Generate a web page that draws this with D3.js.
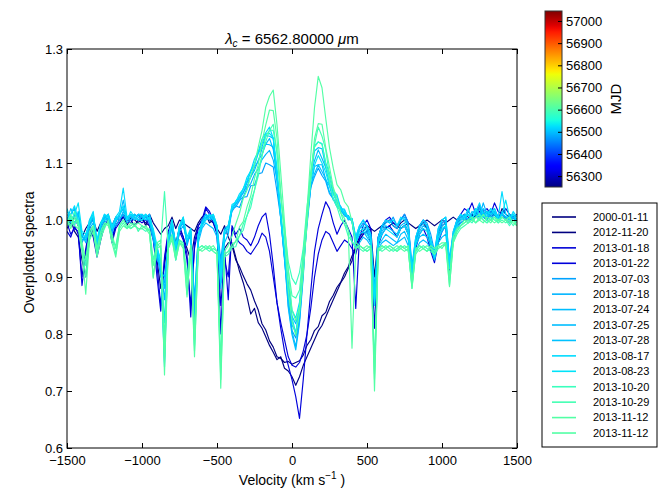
<!DOCTYPE html>
<html>
<head>
<meta charset="utf-8">
<script src="https://cdnjs.cloudflare.com/ajax/libs/d3/7.8.5/d3.min.js"></script>
<style>
  body { margin: 0; background: #fff; }
  svg text { font-family: "Liberation Sans", Arial, Helvetica, sans-serif; fill: #000; }
  .tick line { stroke: #000; }
</style>
</head>
<body>
<svg id="chart" width="664" height="501"></svg>
<script>
// sampling grid (km/s)
const velocity = d3.range(-1500, 1501, 25);

// observation dates and MJD
const dates = ["2000-01-11", "2012-11-20", "2013-01-18", "2013-01-22", "2013-07-03", "2013-07-18",
  "2013-07-24", "2013-07-25", "2013-07-28", "2013-08-17", "2013-08-23", "2013-10-20",
  "2013-10-29", "2013-11-12", "2013-11-12"];
const mjd = [51554, 56251, 56310, 56314, 56476, 56491, 56497, 56498, 56501, 56521, 56527,
  56585, 56594, 56608, 56608];

// normalised flux, one array per spectrum
const f20000111 = [
  0.985,0.995,1.005,0.99,0.97,0.985,0.995,1.0,0.98,0.995,1.005,1.0,0.99,1.005,1.0,1.01,0.99,1.005,1.0,0.995,
  1.005,0.99,1.01,0.995,0.985,0.975,0.985,0.99,1.005,0.985,1.0,0.995,0.99,0.985,0.98,0.995,1.005,1.01,0.995,1.0,0.985,0.975,0.99,0.97,
  0.955,0.93,0.918,0.902,0.888,0.877,0.858,0.842,0.818,0.807,0.788,0.777,0.76,0.757,0.75,0.752,0.747,0.75,0.753,0.763,0.78,0.79,0.806,0.813,0.832,0.838,0.857,0.868,0.882,0.891,0.907,0.918,0.937,
  0.95,0.965,0.975,0.98,0.985,0.98,0.985,0.99,0.985,0.99,0.995,0.99,0.985,0.99,0.995,0.99,0.985,0.99,0.995,1.0,0.995,0.99,0.995,1.0,0.995,1.0,1.005,1.0,1.005,1.01,1.005,1.0,1.01,1.005,1.01,1.015,1.005,1.01,1.0,1.01,1.005,1.0,1.01,1.0];
const f20121120 = [
  0.99,1.0,0.98,0.97,0.93,0.9,0.97,0.98,0.94,0.97,0.99,1.0,0.965,0.99,1.0,1.005,0.995,1.0,0.99,1.0,
  1.0,0.995,0.99,0.97,0.93,0.88,0.92,0.97,0.99,0.96,0.985,0.97,0.95,0.93,0.97,0.99,1.0,1.01,1.0,0.995,0.98,0.89,0.95,0.96,
  0.96,0.935,0.91,0.89,0.865,0.835,0.845,0.82,0.81,0.795,0.78,0.768,0.755,0.76,0.74,0.735,0.725,0.71,0.725,0.745,0.76,0.775,0.79,0.805,0.815,0.83,0.845,0.86,0.875,0.89,0.9,0.915,0.928,
  0.955,0.97,0.98,0.99,0.985,0.9,0.97,0.99,0.995,1.0,0.99,0.985,0.995,1.0,0.99,0.9,0.96,0.99,0.995,0.985,0.95,0.93,0.97,0.99,0.995,0.91,0.97,0.995,1.0,1.005,1.0,1.01,1.005,1.02,1.01,1.005,1.015,1.01,1.0,1.02,1.01,1.005,1.01,1.0];
const f20130118 = [
  0.98,0.97,0.99,0.975,0.9,0.95,0.985,0.97,0.935,0.965,0.99,1.0,0.96,0.985,0.995,1.005,1.0,0.995,1.005,1.0,
  0.995,1.0,0.99,0.965,0.92,0.85,0.93,0.975,0.99,0.94,0.98,0.965,0.93,0.85,0.95,0.985,0.99,1.02,1.01,0.995,0.975,0.85,0.93,0.9,
  0.985,0.97,0.96,0.955,0.945,0.94,0.95,0.96,0.977,0.97,0.945,0.9,0.855,0.82,0.79,0.76,0.745,0.742,0.75,0.77,0.8,0.845,0.9,0.94,0.965,0.98,0.975,0.96,0.945,0.955,0.965,0.96,0.95,
  0.94,0.965,0.975,0.98,0.96,0.81,0.955,0.975,0.985,0.99,0.98,0.97,0.985,0.99,0.975,0.895,0.95,0.975,0.985,0.97,0.945,0.925,0.96,0.98,0.99,0.9,0.965,0.99,0.995,1.0,1.0,1.005,1.01,1.015,1.005,1.0,1.01,1.015,1.005,1.01,1.0,0.995,1.005,0.995];
const f20130122 = [
  0.995,0.975,0.985,0.98,0.885,0.94,0.99,0.98,0.94,0.97,1.0,1.01,0.97,0.99,1.0,1.01,1.0,1.005,1.0,1.01,
  1.0,1.005,0.995,0.97,0.9,0.84,0.935,0.98,1.0,0.95,0.99,0.97,0.94,0.83,0.96,0.99,1.0,1.023,1.015,1.0,0.985,0.8,0.95,0.86,
  0.99,0.975,0.985,0.97,0.965,0.955,0.97,0.99,1.005,1.012,0.975,0.92,0.855,0.81,0.77,0.745,0.72,0.69,0.652,0.72,0.8,0.875,0.945,0.985,1.01,1.032,1.02,0.995,0.975,0.99,1.0,0.985,0.97,
  0.845,0.97,0.99,1.0,0.985,0.85,0.97,0.99,1.0,1.005,0.995,0.99,1.0,1.01,0.995,0.9,0.965,0.99,1.0,0.99,0.96,0.93,0.975,0.995,1.0,0.905,0.975,1.0,1.01,1.02,1.015,1.03,1.01,1.025,1.015,1.02,1.01,1.03,1.015,1.01,1.02,1.01,1.005,1.01];
const f20130703 = [
  1.005,0.995,1.01,1.0,0.96,0.975,0.99,1.005,0.95,0.985,1.0,1.01,0.98,0.995,1.01,1.02,1.0,1.005,1.0,1.01,
  1.005,1.0,1.01,0.975,0.94,0.9,0.89,0.96,0.995,0.93,0.985,1.0,0.955,0.98,0.86,0.97,0.99,1.005,1.0,1.01,0.99,0.93,0.985,0.99,
  1.015,1.025,1.022,1.04,1.041,1.06,1.061,1.081,1.083,1.1,1.097,1.093,1.05,1.003,0.93,0.865,0.806,0.793,0.826,0.918,0.99,1.057,1.076,1.091,1.078,1.068,1.046,1.037,1.023,1.018,1.007,1.005,0.998,
  0.96,0.985,0.995,0.99,0.975,0.88,0.97,0.99,1.0,0.995,1.005,0.99,1.0,1.01,0.995,0.92,0.97,0.99,1.0,0.995,0.975,0.945,0.985,1.0,1.005,0.93,0.98,1.0,1.01,1.0,1.015,1.005,1.01,1.025,1.01,1.0,1.015,1.02,1.005,1.01,1.0,1.01,1.005,0.995];
const f20130718 = [
  0.99,1.01,1.02,0.995,0.97,0.965,1.0,1.01,0.955,0.99,1.005,1.0,0.975,1.0,1.005,1.035,1.0,1.01,1.005,1.0,
  1.01,1.005,0.995,0.965,0.93,0.92,0.86,0.95,0.99,0.94,0.99,1.005,0.96,0.975,0.82,0.965,1.0,1.01,1.005,1.0,0.985,0.9,0.975,0.98,
  1.02,1.023,1.034,1.041,1.056,1.064,1.08,1.09,1.106,1.115,1.122,1.105,1.07,1.002,0.935,0.85,0.804,0.778,0.824,0.906,1.004,1.056,1.094,1.097,1.097,1.07,1.06,1.035,1.032,1.014,1.014,1.0,1.002,
  0.97,0.99,1.0,0.985,0.97,0.86,0.965,0.985,0.995,1.0,0.99,0.985,1.0,1.005,0.99,0.91,0.965,0.985,0.995,0.99,0.965,0.94,0.98,0.995,1.0,0.92,0.975,0.995,1.005,1.01,1.0,1.01,1.02,1.005,1.03,1.01,1.02,1.01,1.0,1.015,1.01,1.0,1.005,1.0];
const f20130724 = [
  1.01,1.0,0.99,1.015,0.975,0.96,0.985,0.995,0.945,0.98,0.995,1.005,0.985,0.99,1.0,1.01,0.995,1.0,1.01,1.005,
  1.0,1.01,1.0,0.97,0.95,0.93,0.742,0.96,1.0,0.95,0.98,0.99,0.965,0.97,0.8,0.96,0.985,0.995,0.99,0.985,0.97,0.88,0.96,0.975,
  1.018,1.029,1.035,1.049,1.059,1.076,1.087,1.105,1.115,1.133,1.132,1.128,1.069,1.011,0.936,0.874,0.816,0.803,0.836,0.929,1.006,1.076,1.104,1.123,1.108,1.092,1.064,1.05,1.032,1.024,1.01,1.008,0.998,
  0.95,0.96,0.97,0.965,0.955,0.85,0.95,0.96,0.965,0.96,0.955,0.96,0.965,0.97,0.955,0.9,0.945,0.96,0.965,0.96,0.95,0.93,0.96,0.97,0.975,0.915,0.97,0.985,0.995,1.0,0.995,1.005,1.01,1.0,1.015,1.005,1.0,1.01,1.0,1.005,1.0,0.995,1.005,1.0];
const f20130725 = [
  1.0,1.02,1.005,0.99,0.965,0.97,0.995,1.005,0.96,0.99,1.01,1.0,0.985,1.005,1.0,1.015,1.005,1.0,1.01,1.0,
  1.0,1.005,1.01,0.98,0.945,0.91,0.9,0.955,0.99,0.945,0.985,0.995,0.96,0.98,0.85,0.975,0.995,1.01,1.0,1.005,0.98,0.91,0.98,0.99,
  1.024,1.027,1.04,1.047,1.066,1.075,1.093,1.103,1.125,1.133,1.143,1.124,1.081,1.002,0.934,0.846,0.799,0.772,0.819,0.9,1.004,1.074,1.121,1.127,1.125,1.093,1.077,1.047,1.041,1.019,1.017,1.003,1.002,
  0.965,0.985,0.99,0.98,0.965,0.87,0.96,0.98,0.99,0.985,0.98,0.975,0.99,0.995,0.98,0.905,0.96,0.98,0.99,0.985,0.96,0.935,0.975,0.99,0.995,0.925,0.975,0.995,1.005,1.0,1.01,1.0,1.005,1.02,1.005,1.0,1.01,1.015,1.0,1.01,1.005,1.0,1.005,0.995];
const f20130728 = [
  1.015,1.005,0.995,1.01,0.97,0.965,0.99,1.0,0.955,0.99,1.005,1.01,0.99,1.0,1.01,1.02,1.0,1.005,1.01,1.005,
  1.005,1.01,1.0,0.975,0.94,0.915,0.88,0.96,0.995,0.94,0.985,1.0,0.96,0.985,0.84,0.97,0.99,1.0,1.01,1.005,0.985,0.92,0.975,0.985,
  1.02,1.033,1.039,1.055,1.066,1.085,1.096,1.117,1.128,1.148,1.147,1.143,1.077,1.012,0.941,0.884,0.831,0.818,0.846,0.934,0.996,1.06,1.081,1.097,1.085,1.072,1.049,1.038,1.025,1.017,1.009,1.005,0.998,
  0.96,0.975,0.98,0.97,0.96,0.86,0.955,0.965,0.975,0.97,0.965,0.96,0.975,0.98,0.965,0.9,0.955,0.97,0.975,0.97,0.955,0.93,0.965,0.98,0.99,0.92,0.975,0.99,1.0,1.005,1.0,1.015,1.01,1.005,1.02,1.01,1.005,1.015,1.0,1.01,1.005,1.0,1.01,1.0];
const f20130817 = [
  1.0,1.01,1.025,1.0,0.975,0.97,1.0,1.015,0.96,0.995,1.01,1.005,0.99,1.005,1.015,1.056,1.005,1.01,1.0,1.01,
  1.01,1.0,1.005,0.98,0.95,0.92,0.75,0.965,1.0,0.95,0.99,1.0,0.965,0.98,0.78,0.975,0.995,1.005,1.01,1.0,0.99,0.89,0.98,0.985,
  1.027,1.031,1.046,1.054,1.075,1.086,1.107,1.12,1.142,1.153,1.163,1.143,1.092,1.004,0.944,0.866,0.829,0.801,0.849,0.921,1.009,1.08,1.13,1.137,1.134,1.1,1.082,1.051,1.044,1.02,1.019,1.002,1.003,
  0.97,0.99,1.0,0.99,0.975,0.87,0.97,0.99,1.0,0.995,1.0,0.99,1.005,1.0,0.99,0.915,0.97,0.99,1.0,0.99,0.965,0.94,0.985,1.0,1.005,0.925,0.98,1.0,1.01,1.005,1.02,1.0,1.015,1.03,1.01,1.005,1.02,1.01,1.005,1.05,1.01,1.0,1.015,1.005];
const f20130823 = [
  1.02,1.0,1.01,1.03,0.98,0.975,0.995,1.01,0.965,0.995,1.0,1.01,0.985,1.0,1.01,1.025,1.0,1.015,1.005,1.0,
  1.0,1.01,1.0,0.985,0.955,0.925,0.82,0.97,1.0,0.955,0.99,1.005,0.97,0.985,0.79,0.975,0.99,1.0,1.005,1.01,0.99,0.9,0.98,0.99,
  1.02,1.033,1.041,1.055,1.069,1.087,1.099,1.119,1.134,1.151,1.152,1.144,1.082,1.011,0.946,0.893,0.842,0.828,0.856,0.939,1.001,1.069,1.096,1.113,1.1,1.084,1.059,1.045,1.031,1.02,1.012,1.005,0.999,
  0.96,0.98,0.985,0.975,0.965,0.85,0.96,0.975,0.985,0.98,0.975,0.97,0.985,0.99,0.975,0.905,0.96,0.975,0.985,0.98,0.96,0.935,0.97,0.985,0.99,0.915,0.97,0.99,1.0,1.005,1.01,1.0,1.02,1.01,1.005,1.015,1.01,1.02,1.0,1.01,1.035,1.005,1.01,1.0];
const f20131020 = [
  1.0,0.99,1.015,0.995,0.95,0.92,0.975,0.985,0.94,0.975,0.99,0.995,0.965,0.955,0.99,1.0,0.99,0.985,0.99,0.985,
  0.985,0.98,0.985,0.93,0.96,0.95,0.79,0.955,0.975,0.94,0.965,0.96,0.9,0.955,0.8,0.95,0.955,0.95,0.945,0.95,0.945,0.75,0.94,0.945,
  0.952,0.953,0.973,0.982,1.008,1.022,1.053,1.077,1.113,1.137,1.158,1.157,1.118,1.041,0.988,0.927,0.898,0.887,0.908,0.951,1.023,1.077,1.128,1.137,1.133,1.097,1.068,1.037,1.023,1.002,0.993,0.972,0.962,
  0.95,0.955,0.95,0.945,0.95,0.75,0.945,0.95,0.955,0.95,0.945,0.95,0.955,0.95,0.945,0.885,0.94,0.95,0.955,0.95,0.945,0.94,0.95,0.955,0.96,0.895,0.965,0.98,0.99,0.995,1.0,0.995,1.005,1.01,1.0,0.995,1.005,1.0,0.995,1.005,1.0,0.99,1.0,0.995];
const f20131029 = [
  0.99,1.005,0.995,1.0,0.955,0.9,0.97,0.99,0.945,0.97,0.985,1.0,0.97,0.94,0.985,0.995,0.985,0.99,0.995,0.98,
  0.99,0.985,0.98,0.9,0.955,0.96,1.05,0.95,0.97,0.93,0.96,0.955,0.87,0.95,0.77,0.945,0.95,0.955,0.95,0.945,0.94,0.72,0.935,0.94,
  0.952,0.963,0.972,0.993,1.007,1.033,1.052,1.088,1.112,1.148,1.157,1.168,1.117,1.043,0.972,0.913,0.867,0.863,0.877,0.943,1.007,1.083,1.132,1.163,1.147,1.123,1.077,1.053,1.027,1.013,0.992,0.983,0.962,
  0.955,0.95,0.945,0.95,0.955,0.72,0.95,0.945,0.95,0.955,0.95,0.945,0.95,0.955,0.95,0.88,0.945,0.955,0.95,0.945,0.95,0.945,0.955,0.95,0.96,0.885,0.96,0.975,0.985,0.99,0.995,1.0,0.995,1.005,1.0,0.995,1.0,1.005,0.995,1.0,0.995,1.0,0.99,1.0];
const f20131112a = [
  0.995,1.01,0.99,0.985,0.945,0.87,0.965,0.98,0.935,0.965,0.99,0.995,0.96,0.935,0.98,0.99,0.985,0.995,0.99,0.985,
  0.985,0.99,0.98,0.898,0.95,0.955,0.728,0.95,0.965,0.93,0.96,0.95,0.865,0.95,0.76,0.95,0.945,0.95,0.955,0.945,0.94,0.705,0.94,0.945,
  0.958,0.962,0.988,0.997,1.023,1.042,1.073,1.097,1.138,1.167,1.193,1.192,1.143,1.047,0.973,0.877,0.823,0.797,0.838,0.907,0.993,1.072,1.143,1.169,1.168,1.127,1.093,1.057,1.038,1.012,1.003,0.982,0.775,
  0.95,0.955,0.95,0.945,0.95,0.7,0.945,0.955,0.95,0.945,0.95,0.955,0.95,0.945,0.95,0.88,0.95,0.945,0.95,0.955,0.95,0.94,0.95,0.955,0.955,0.883,0.96,0.98,0.99,0.995,1.0,1.005,0.995,1.0,1.01,1.0,0.995,1.005,1.0,0.995,1.0,1.005,0.995,0.99];
const f20131112b = [
  1.0,0.985,1.005,0.99,0.96,0.93,0.98,0.99,0.95,0.98,0.995,0.99,0.975,0.95,0.99,1.0,0.99,0.985,0.99,0.995,
  0.99,0.985,0.975,0.92,0.96,0.965,0.76,0.955,0.97,0.935,0.965,0.955,0.89,0.955,0.79,0.95,0.955,0.95,0.95,0.955,0.945,0.74,0.945,0.955,
  0.972,0.993,1.012,1.038,1.052,1.078,1.097,1.128,1.157,1.198,1.217,1.228,1.167,1.083,0.997,0.913,0.842,0.823,0.847,0.933,1.017,1.113,1.197,1.252,1.232,1.178,1.127,1.091,1.062,1.053,1.032,1.023,0.997,
  0.96,0.955,0.95,0.955,0.95,0.73,0.95,0.955,0.95,0.955,0.95,0.945,0.955,0.95,0.955,0.89,0.95,0.955,0.95,0.945,0.955,0.95,0.955,0.96,0.96,0.9,0.97,0.985,0.99,1.0,0.995,1.0,1.005,1.0,0.995,1.005,1.0,0.995,1.0,1.005,1.0,0.995,1.0,0.99];

const fluxes = [f20000111, f20121120, f20130118, f20130122, f20130703, f20130718, f20130724,
  f20130725, f20130728, f20130817, f20130823, f20131020, f20131029, f20131112a, f20131112b];

const xTicks = [-1500, -1000, -500, 0, 500, 1000, 1500];
const yTicks = [0.6, 0.7, 0.8, 0.9, 1.0, 1.1, 1.2, 1.3];
const cbTicks = [56300, 56400, 56500, 56600, 56700, 56800, 56900, 57000];
const cbRange = [56251, 57045];

fluxes.forEach((f, i) => {
  if (f.length !== velocity.length) throw new Error(`${dates[i]} has ${f.length} points`);
});

const spectra = dates.map((d, i) => ({
  date: d,
  mjd: mjd[i],
  points: velocity.map((v, j) => ({ v, f: fluxes[i][j] }))
}));

// jet colormap (matplotlib segment data)
const jetR = d3.scaleLinear().domain([0, 0.35, 0.66, 0.89, 1]).range([0, 0, 1, 1, 0.5]).clamp(true);
const jetG = d3.scaleLinear().domain([0, 0.125, 0.375, 0.64, 0.91, 1]).range([0, 0, 1, 1, 0, 0]).clamp(true);
const jetB = d3.scaleLinear().domain([0, 0.11, 0.34, 0.65, 1]).range([0.5, 1, 1, 0, 0]).clamp(true);
const jet = t => d3.rgb(255 * jetR(t), 255 * jetG(t), 255 * jetB(t)).formatHex();
const norm = d3.scaleLinear().domain(cbRange).clamp(true);
const colorOf = m => jet(norm(m));

// dimensions
const PLOT = { left: 67, right: 517, top: 49, bottom: 448 };
const CB = { left: 545, right: 562, top: 11, bottom: 187 };
const LEG = { left: 542, top: 203, width: 115, height: 244, row: 15.43 };

const $svg = d3.select("#chart");

const scaleX = d3.scaleLinear().domain([-1500, 1500]).range([PLOT.left, PLOT.right]);
const scaleY = d3.scaleLinear().domain([0.6, 1.3]).range([PLOT.bottom, PLOT.top]);

$svg.append("defs").append("clipPath").attr("id", "plot-clip")
  .append("rect")
  .attr("x", PLOT.left).attr("y", PLOT.top)
  .attr("width", PLOT.right - PLOT.left).attr("height", PLOT.bottom - PLOT.top);

// spectra
const line = d3.line().x(d => scaleX(d.v)).y(d => scaleY(d.f));
$svg.append("g").attr("clip-path", "url(#plot-clip)")
  .selectAll("path")
  .data(spectra)
  .join("path")
  .attr("d", d => line(d.points))
  .attr("fill", "none")
  .attr("stroke", d => colorOf(d.mjd))
  .attr("stroke-width", 1.15)
  .attr("stroke-linejoin", "round");

// axes (ticks inward on all four sides)
const fmtX = d3.format("d");
const fmtY = d3.format(".1f");
function styleAxis(g) {
  g.select(".domain").remove();
  g.selectAll("text").style("font-size", "13px");
}
$svg.append("g").attr("transform", `translate(0,${PLOT.bottom})`)
  .call(d3.axisBottom(scaleX).tickValues(xTicks).tickFormat(fmtX).tickSizeInner(-5).tickSizeOuter(0).tickPadding(8))
  .call(styleAxis);
$svg.append("g").attr("transform", `translate(0,${PLOT.top})`)
  .call(d3.axisTop(scaleX).tickValues(xTicks).tickFormat("").tickSizeInner(-5).tickSizeOuter(0))
  .call(styleAxis);
$svg.append("g").attr("transform", `translate(${PLOT.left},0)`)
  .call(d3.axisLeft(scaleY).tickValues(yTicks).tickFormat(fmtY).tickSizeInner(-5).tickSizeOuter(0).tickPadding(4))
  .call(styleAxis);
$svg.append("g").attr("transform", `translate(${PLOT.right},0)`)
  .call(d3.axisRight(scaleY).tickValues(yTicks).tickFormat("").tickSizeInner(-5).tickSizeOuter(0))
  .call(styleAxis);

$svg.append("rect")
  .attr("x", PLOT.left).attr("y", PLOT.top)
  .attr("width", PLOT.right - PLOT.left).attr("height", PLOT.bottom - PLOT.top)
  .attr("fill", "none").attr("stroke", "#000").attr("stroke-width", 1);

// title
const title = $svg.append("text")
  .attr("x", (PLOT.left + PLOT.right) / 2).attr("y", 44)
  .attr("text-anchor", "middle").style("font-size", "15px");
title.append("tspan").style("font-style", "italic").text("λ");
title.append("tspan").style("font-style", "italic").style("font-size", "10px").attr("dy", 3).text("c");
title.append("tspan").attr("dy", -3).text(" = 6562.80000 ");
title.append("tspan").style("font-style", "italic").text("μ");
title.append("tspan").text("m");

// axis labels
const xLab = $svg.append("text")
  .attr("x", (PLOT.left + PLOT.right) / 2).attr("y", 485)
  .attr("text-anchor", "middle").style("font-size", "14px");
xLab.append("tspan").text("Velocity (km s");
xLab.append("tspan").attr("dy", -6).style("font-size", "10px").text("−1");
xLab.append("tspan").attr("dy", 6).text(" )");

$svg.append("text")
  .attr("transform", `translate(34,${(PLOT.top + PLOT.bottom) / 2 + 4}) rotate(-90)`)
  .attr("text-anchor", "middle").style("font-size", "14px")
  .text("Overplotted spectra");

// colorbar
const scaleCb = d3.scaleLinear().domain(cbRange).range([CB.bottom, CB.top]);
const grad = $svg.select("defs").append("linearGradient")
  .attr("id", "jet-grad").attr("x1", 0).attr("y1", 1).attr("x2", 0).attr("y2", 0);
grad.selectAll("stop")
  .data(d3.range(0, 1.0001, 0.02))
  .join("stop")
  .attr("offset", d => d)
  .attr("stop-color", d => jet(d));
$svg.append("rect")
  .attr("x", CB.left).attr("y", CB.top)
  .attr("width", CB.right - CB.left).attr("height", CB.bottom - CB.top)
  .attr("fill", "url(#jet-grad)").attr("stroke", "#333").attr("stroke-width", 1);
$svg.append("g").attr("transform", `translate(${CB.right},0)`)
  .call(d3.axisRight(scaleCb).tickValues(cbTicks).tickFormat(fmtX).tickSizeInner(-4).tickSizeOuter(0).tickPadding(4))
  .call(styleAxis);
$svg.append("text")
  .attr("transform", `translate(621,${(CB.top + CB.bottom) / 2}) rotate(-90)`)
  .attr("text-anchor", "middle").style("font-size", "15px")
  .text("MJD");

// legend
const $legend = $svg.append("g").attr("transform", `translate(${LEG.left},${LEG.top})`);
$legend.append("rect")
  .attr("width", LEG.width).attr("height", LEG.height)
  .attr("fill", "#fff").attr("stroke", "#000").attr("stroke-width", 1);
const $item = $legend.selectAll(".item")
  .data(spectra)
  .join("g")
  .attr("class", "item")
  .attr("transform", (d, i) => `translate(0,${14 + i * LEG.row})`);
$item.append("line")
  .attr("x1", 10).attr("x2", 34)
  .attr("stroke", d => colorOf(d.mjd)).attr("stroke-width", 1.6);
$item.append("text")
  .attr("x", 51).attr("dy", "0.35em")
  .style("font-size", "11px")
  .text(d => d.date);
</script>
</body>
</html>
